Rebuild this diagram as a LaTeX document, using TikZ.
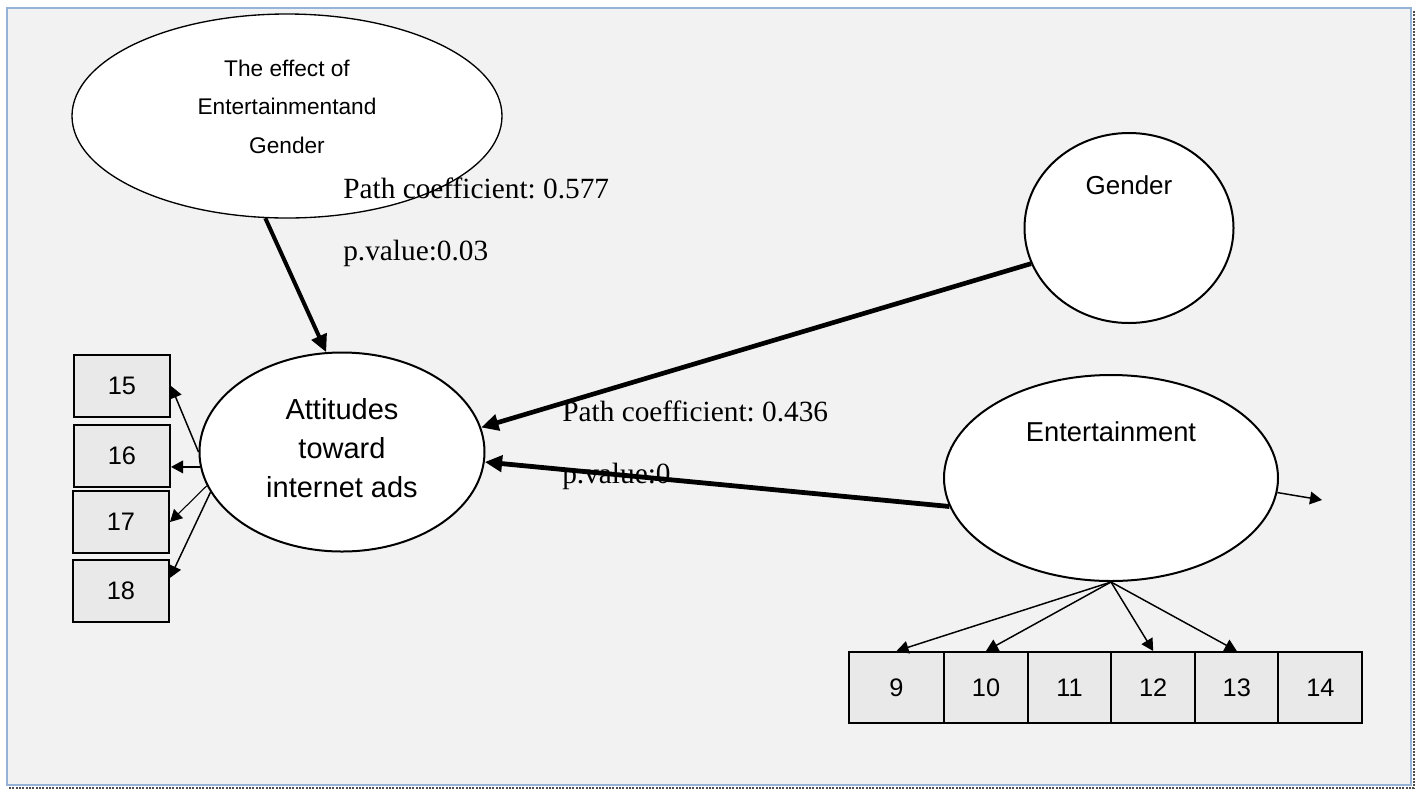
\documentclass[tikz,border=0pt]{standalone}
\usepackage{fontspec}
\setmainfont{Liberation Serif}
\setsansfont{Liberation Sans}
\usetikzlibrary{shapes.geometric,arrows.meta}
\definecolor{pagebg}{HTML}{F2F2F2}
\definecolor{framebl}{HTML}{95B3D7}
\definecolor{boxgray}{HTML}{E9E9E9}
\frenchspacing

\begin{document}
\begin{tikzpicture}[x=0.75pt,y=-0.75pt,
  every node/.style={font=\sffamily},
  latent/.style={draw,ellipse,fill=white,line width=1.5pt,inner sep=0pt},
  item/.style={draw,rectangle,fill=boxgray,line width=1.5pt,inner sep=0pt,
    font=\sffamily\fontsize{19}{23}\selectfont}
]

\tikzstyle{heavy}=[-{Triangle[length=13pt,width=12pt]},line width=3pt]
\tikzstyle{load}=[-{Triangle[length=9pt,width=9.5pt]},line width=1.1pt]
\tikzstyle{coef}=[anchor=base west,inner sep=0pt,font=\rmfamily\fontsize{22}{26}\selectfont]

\useasboundingbox (0,0) rectangle (1417,790);
\fill[white] (0,0) rectangle (1417,790);
\draw[framebl,fill=pagebg,line width=1.5pt] (7,8) rectangle (1411,785);
\draw[gray!60!black,densely dotted,line width=1.5pt] (9,788) -- (1414,788) -- (1414,10);

% latent variables
\node[latent,line width=1pt,minimum width=322.5pt,minimum height=153pt,
  label={[align=center,yshift=7pt,font=\sffamily\fontsize{17}{29}\selectfont]center:The effect of\\Entertainmentand\\Gender}] (effect) at (287,116) {};
\node[latent,minimum width=156.75pt,minimum height=142.5pt,
  label={[yshift=32pt,font=\sffamily\fontsize{19.5}{24}\selectfont]center:Gender}] (gender) at (1129,228) {};
\node[latent,minimum width=250.5pt,minimum height=154.5pt,
  label={[yshift=34.5pt,font=\sffamily\fontsize{20.5}{25}\selectfont]center:Entertainment}] (ent) at (1111,478) {};
\node[latent,minimum width=213.75pt,minimum height=149.25pt,
  label={[align=center,yshift=3pt,font=\sffamily\fontsize{21.75}{29}\selectfont]center:Attitudes\\toward\\internet ads}] (att) at (342,452) {};

% indicators
\node[item,minimum width=72pt,minimum height=47pt] (b15) at (122,386) {15};
\node[item,minimum width=72pt,minimum height=46pt] (b16) at (122,456) {16};
\node[item,minimum width=72pt,minimum height=46pt] (b17) at (121,522) {17};
\node[item,minimum width=72pt,minimum height=46pt] (b18) at (121,591) {18};

\node[item,minimum width=71.25pt,minimum height=53.25pt] (b9) at (896.5,687.5) {9};
\foreach \n in {10,...,14}
  \node[item,minimum width=63pt,minimum height=53.25pt] (b\n) at ({986+(\n-10)*83.6},687.5) {\n};

% coefficients
\node[coef] (pc1) at (343,198) {Path coefficient: 0.577};
\node[coef] (pv1) at (343,260) {p.value:0.03};
\node[coef] (pc2) at (562,421) {Path coefficient: 0.436};
\node[coef] (pv2) at (562,483) {p.value:0};

% paths
\draw[heavy] (effect.258) -- (att.99);
\draw[heavy,line width=3.5pt] (gender.200) -- (att.10);
\draw[heavy,line width=3.6pt] (ent.190) -- (att.356);

\coordinate (entout) at (1322,500);
\draw[load] (ent.355) -- (entout);

\draw[load] (att.180) -- (b15.east);
\draw[load] (att.186) -- (att.186 -| b16.east);
\draw[load,line width=0.8pt] (att.194) -- (b17.east);
\draw[load] (att.197) -- (b18.15);

\draw[load] (ent.south) -- (b9.north);
\draw[load] (ent.south) -- (b10.north);
\draw[load] (ent.south) -- (b12.north);
\draw[load] (ent.south) -- (b13.north);
\end{tikzpicture}
\end{document}
